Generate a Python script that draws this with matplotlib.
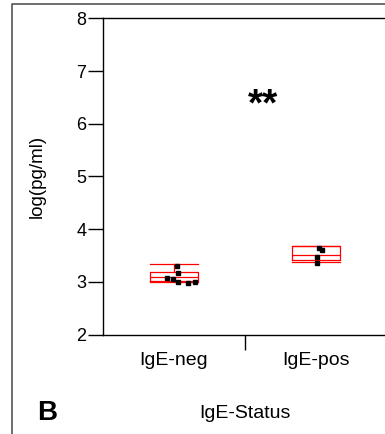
import numpy as np
import matplotlib.pyplot as plt
from matplotlib.lines import Line2D

plt.rcParams['font.family'] = ['Liberation Sans', 'DejaVu Sans']

# data
groups = ['IgE-neg', 'IgE-pos']
neg_vals = [3.30, 3.17, 3.07, 3.06, 3.00, 2.97, 3.00]
neg_jit = [0.02, 0.03, -0.05, -0.01, 0.03, 0.10, 0.15]
pos_vals = [3.64, 3.60, 3.48, 3.35]
pos_jit = [0.02, 0.04, 0.01, 0.01]

# box stats (JMP-style quantile boxes)
q1 = [3.02, 3.41]
med = [3.10, 3.50]
q3 = [3.19, 3.67]
whislo = [3.00, 3.37]
whishi = [3.33, 3.67]

fig = plt.figure(figsize=(3.85, 4.34), dpi=100)
ax = fig.add_axes([103/385, 99.5/434, 284/385, 316.2/434])

stats = []
for i in range(2):
    stats.append(dict(q1=q1[i], med=med[i], q3=q3[i], whislo=whislo[i], whishi=whishi[i], fliers=[]))
red = '#ff0000'
ax.bxp(stats, positions=[0, 1], widths=0.34, showfliers=False,
       boxprops=dict(color=red, lw=0.9), medianprops=dict(color=red, lw=0.9),
       whiskerprops=dict(color=red, lw=0.9), capprops=dict(color=red, lw=0.9),
       capwidths=0.34, manage_ticks=False)

ax.plot(0 + np.array(neg_jit), neg_vals, 's', color='k', ms=3.5, zorder=5)
ax.plot(1 + np.array(pos_jit), pos_vals, 's', color='k', ms=3.5, zorder=5)

ax.text(0.63, 6.35, '**', fontsize=28, fontweight='bold', ha='center', va='center')

ax.set_xlim(-0.5, 1.5)
ax.set_ylim(2, 8)
ax.set_yticks([2, 3, 4, 5, 6, 7, 8])
ax.set_xticks([0.5])
ax.set_xticklabels([''])
ax.tick_params(axis='y', direction='out', length=11, width=1, labelsize=13, pad=1)
ax.tick_params(axis='x', direction='out', length=11, width=1)
for i, g in enumerate(groups):
    ax.text(i, 1.5, g, ha='center', va='center', fontsize=14)
ax.spines['right'].set_visible(False)
for s in ['left', 'top', 'bottom']:
    ax.spines[s].set_linewidth(1)
ax.set_ylabel('log(pg/ml)', fontsize=13.5, labelpad=22)

fig.text(245/385, 1 - 414/434, 'IgE-Status', ha='center', va='center', fontsize=14)
fig.text(47/385, 1 - 413/434, 'B', ha='center', va='center', fontsize=20, fontweight='bold')

# outer panel frame
fig.add_artist(Line2D([12/385, 12/385, 1], [0, 1 - 3.5/434, 1 - 3.5/434],
                      transform=fig.transFigure, color='#555555', lw=1.2))

fig.savefig('out.png', dpi=100)
